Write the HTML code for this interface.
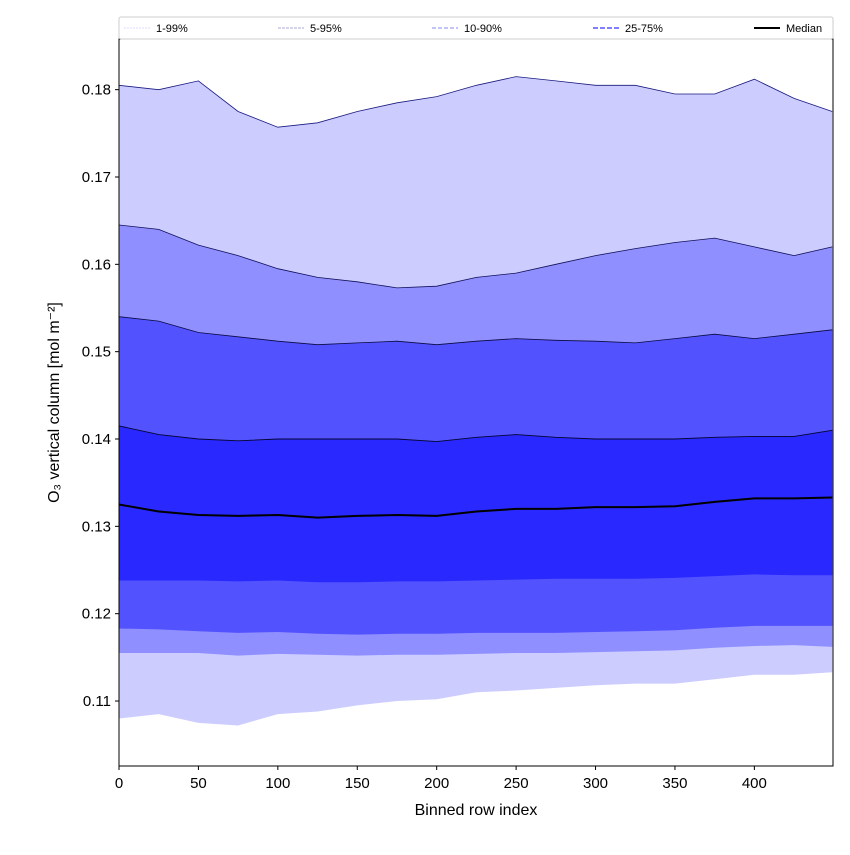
<!DOCTYPE html>
<html><head><meta charset="utf-8"><style>
body{margin:0;background:#fff;font-family:"Liberation Sans","DejaVu Sans",sans-serif;}
</style></head><body>
<svg id="chart" width="850" height="850" xmlns="http://www.w3.org/2000/svg"></svg>
<script>
const xs   = [0,25,50,75,100,125,150,175,200,225,250,275,300,325,350,375,400,425,449];
const p99  = [0.1805,0.1800,0.1810,0.1775,0.1757,0.1762,0.1775,0.1785,0.1792,0.1805,0.1815,0.1810,0.1805,0.1805,0.1795,0.1795,0.1812,0.1790,0.1775];
const p95  = [0.1645,0.1640,0.1622,0.1610,0.1595,0.1585,0.1580,0.1573,0.1575,0.1585,0.1590,0.1600,0.1610,0.1618,0.1625,0.1630,0.1620,0.1610,0.1620];
const p90  = [0.1540,0.1535,0.1522,0.1517,0.1512,0.1508,0.1510,0.1512,0.1508,0.1512,0.1515,0.1513,0.1512,0.1510,0.1515,0.1520,0.1515,0.1520,0.1525];
const p75  = [0.1415,0.1405,0.1400,0.1398,0.1400,0.1400,0.1400,0.1400,0.1397,0.1402,0.1405,0.1402,0.1400,0.1400,0.1400,0.1402,0.1403,0.1403,0.1410];
const p50  = [0.1325,0.1317,0.1313,0.1312,0.1313,0.1310,0.1312,0.1313,0.1312,0.1317,0.1320,0.1320,0.1322,0.1322,0.1323,0.1328,0.1332,0.1332,0.1333];
const p25  = [0.1238,0.1238,0.1238,0.1237,0.1238,0.1236,0.1236,0.1237,0.1237,0.1238,0.1239,0.1240,0.1240,0.1240,0.1241,0.1243,0.1245,0.1244,0.1244];
const p10  = [0.1183,0.1182,0.1180,0.1178,0.1179,0.1177,0.1176,0.1177,0.1177,0.1178,0.1178,0.1178,0.1179,0.1180,0.1181,0.1184,0.1186,0.1186,0.1186];
const p5   = [0.1155,0.1155,0.1155,0.1152,0.1154,0.1153,0.1152,0.1153,0.1153,0.1154,0.1155,0.1155,0.1156,0.1157,0.1158,0.1161,0.1163,0.1164,0.1162];
const p1   = [0.1080,0.1085,0.1075,0.1072,0.1085,0.1088,0.1095,0.1100,0.1102,0.1110,0.1112,0.1115,0.1118,0.1120,0.1120,0.1125,0.1130,0.1130,0.1133];
const yTicks = [0.11,0.12,0.13,0.14,0.15,0.16,0.17,0.18];
const xTicks = [0,50,100,150,200,250,300,350,400];
const legendLabels = ["1-99%","5-95%","10-90%","25-75%","Median"];

const L=119,R=833,T=39,B=766;
const X0=0,X1=449.5,Y0=0.10256,Y1=0.1858;
const sx=v=>L+(v-X0)/(X1-X0)*(R-L);
const sy=v=>B-(v-Y0)/(Y1-Y0)*(B-T);
const svg=document.getElementById('chart');
const NS='http://www.w3.org/2000/svg';
function mk(tag,attrs){const e=document.createElementNS(NS,tag);for(const k in attrs)e.setAttribute(k,attrs[k]);svg.appendChild(e);return e;}
const pts=a=>a.map((v,i)=>sx(xs[i]).toFixed(1)+','+sy(v).toFixed(1));
function band(lo,hi,color,name){
  const d='M'+pts(hi).join('L')+'L'+pts(lo).reverse().join('L')+'Z';
  const p=mk('path',{d:d,fill:color,stroke:'none'});
  
  
}
function line(a,color,w,name){
  const p=mk('polyline',{points:pts(a).join(' '),fill:'none',stroke:color,'stroke-width':w});
  
  
}
band(p1,p99,'#ccccff','band-1-99');
band(p5,p95,'#8f8fff','band-5-95');
band(p10,p90,'#5252ff','band-10-90');
band(p25,p75,'#2828ff','band-25-75');
line(p99,'#1a1a80',0.8,'line-p99');
line(p95,'#10105a',0.8,'line-p95');
line(p90,'#0a0a40',0.8,'line-p90');
line(p75,'#050530',0.9,'line-p75');
line(p50,'#000',2,'median-line');

// frame
const fr=mk('rect',{x:L,y:T,width:R-L,height:B-T,fill:'none',stroke:'#000','stroke-width':1});



yTicks.forEach(v=>{
  const y=sy(v);
  mk('line',{x1:L-4,x2:L,y1:y,y2:y,stroke:'#000'});
  const t=mk('text',{x:L-8,y:y+5,'text-anchor':'end','font-size':15});
  t.textContent=v.toFixed(2);
  
  
});
xTicks.forEach(v=>{
  const x=sx(v);
  mk('line',{x1:x,x2:x,y1:B,y2:B+4,stroke:'#000'});
  const t=mk('text',{x:x,y:B+22,'text-anchor':'middle','font-size':15});
  t.textContent=v;
  
  
});
const xt=mk('text',{x:(L+R)/2,y:815,'text-anchor':'middle','font-size':16});
xt.textContent='Binned row index';


const yt=mk('text',{x:0,y:0,'text-anchor':'middle','font-size':16,transform:'translate(59,'+((T+B)/2)+') rotate(-90)'});
yt.textContent='O₃ vertical column [mol m⁻²]';



// legend
const lg=mk('rect',{x:119,y:17,width:714,height:22,fill:'#fff',stroke:'#ccc','stroke-width':1,rx:2});


const lx=[124,278,432,593,754];
const lcol=['#ddddff','#aaaacc','#8888ee','#5555ff','#000'];
const ldash=['2,1','3,1','4,2','5,2',''];
const lw=[1,1,1,1.5,2];
legendLabels.forEach((s,i)=>{
  const a={x1:lx[i],x2:lx[i]+26,y1:28,y2:28,stroke:lcol[i],'stroke-width':lw[i]};
  if(ldash[i])a['stroke-dasharray']=ldash[i];
  mk('line',a);
  const t=mk('text',{x:lx[i]+32,y:32,'font-size':11});
  t.textContent=s;
  
  
});
</script>
</body></html>
